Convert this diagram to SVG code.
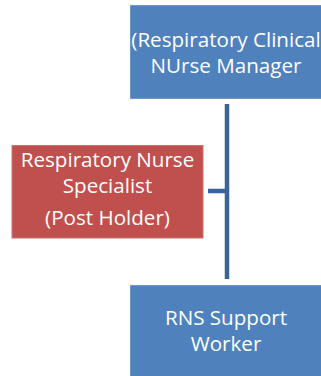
<svg xmlns="http://www.w3.org/2000/svg" width="321" height="376" viewBox="0 0 321 376">
<style>
.t{font-family:"Open Sans","Liberation Sans",sans-serif;font-size:20.6px;fill:#ffffff;text-anchor:middle}
.blue{fill:#4f81bd;stroke:#6f97c9;stroke-width:1}
.red{fill:#c0504d;stroke:#cf7370;stroke-width:1}
.c{stroke:#3a6498;stroke-width:4.5;fill:none}
</style>
<rect width="321" height="376" fill="#ffffff"/>
<g id="connectors">
<line class="c" x1="227" y1="104" x2="227" y2="279"/>
<line class="c" x1="208" y1="191" x2="227" y2="191"/>
</g>
<g id="manager">
<rect class="blue" x="130.5" y="5.5" width="194" height="93"/>
<text class="t" x="226" y="46.5">(Respiratory Clinical</text>
<text class="t" x="226" y="73">NUrse Manager</text>
</g>
<g id="specialist">
<rect class="red" x="12" y="145.5" width="191" height="92.5"/>
<text class="t" x="107.5" y="167">Respiratory Nurse</text>
<text class="t" x="107.5" y="193">Specialist</text>
<text class="t" x="107.5" y="225">(Post Holder)</text>
</g>
<g id="support">
<rect class="blue" x="130.5" y="285.5" width="194" height="95"/>
<text class="t" x="226" y="325">RNS Support</text>
<text class="t" x="226" y="351">Worker</text>
</g>
</svg>
